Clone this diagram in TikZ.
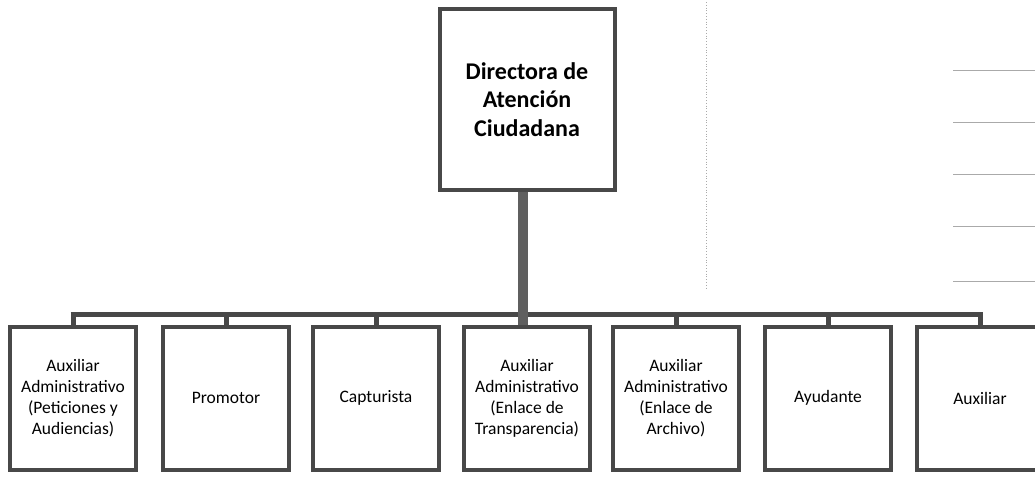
\documentclass[tikz,border=0pt]{standalone}
\usepackage{fontspec}
\setmainfont{Carlito}
\definecolor{boxline}{RGB}{72,72,72}
\definecolor{trunk}{RGB}{95,95,95}
\definecolor{faint}{RGB}{170,170,170}
\begin{document}
\begin{tikzpicture}[x=1pt,y=-1pt,
  topbox/.style={draw=boxline, line width=4pt, fill=white, minimum width=175pt, minimum height=181pt,
    align=center, font=\fontsize{24}{28.5}\selectfont\bfseries, inner sep=0pt},
  staffbox/.style={draw=boxline, line width=4pt, fill=white, minimum width=126pt, minimum height=143pt,
    align=center, font=\fontsize{17.5}{21}\selectfont, inner sep=0pt},
  bar/.style={draw=boxline, line width=5pt},
  stem/.style={draw=trunk, line width=10pt},
  scan/.style={draw=faint, line width=0.8pt}]
\useasboundingbox (0,0) rectangle (1035,477);
\clip (0,0) rectangle (1035,477);
\fill[white] (0,0) rectangle (1035,477);

% faint scan lines on the right
\draw[scan] (953,70) -- (1035,70);
\draw[scan] (953,122) -- (1035,122);
\draw[scan] (953,174) -- (1035,174);
\draw[scan] (953,226) -- (1035,226);
\draw[scan] (953,281) -- (1035,281);
\draw[faint, line width=0.8pt, dotted] (706,2) -- (706,290);

% top box
\node[topbox] (dir) at (527,99.5) {Directora de\\Atención\\Ciudadana};

% staff boxes
\node[staffbox] (b1) at (73,398) {Auxiliar\\Administrativo\\(Peticiones y\\Audiencias)};
\node[staffbox] (b2) at (226,398) {Promotor};
\node[staffbox] (b3) at (376,398) {Capturista};
\node[staffbox] (b4) at (527,398) {Auxiliar\\Administrativo\\(Enlace de\\Transparencia)};
\node[staffbox] (b5) at (676,398) {Auxiliar\\Administrativo\\(Enlace de\\Archivo)};
\node[staffbox] (b6) at (828,398) {Ayudante};
\node[staffbox] (b7) at (980,398) {Auxiliar};

% connector bar
\coordinate (barL) at (73,314);
\coordinate (barR) at (980,314);
\coordinate (junc) at (523,314);
\draw[bar] ([xshift=-2.5pt]barL) -- ([xshift=2.5pt]barR);
\foreach \b in {b1,b2,b3,b5,b6,b7}{
  \draw[bar] (\b.north |- barL) -- (\b.north);
}
\draw[stem] (dir.south -| junc) -- ([yshift=2.5pt]junc) -- (junc |- b4.north);
\end{tikzpicture}
\end{document}
